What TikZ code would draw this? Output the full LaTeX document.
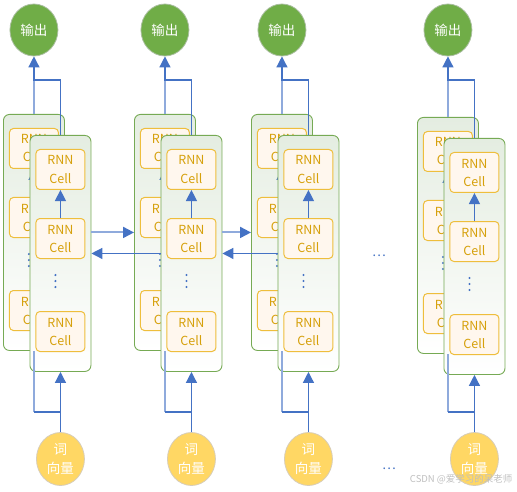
\documentclass[tikz,border=0pt]{standalone}
\usepackage{fontspec}
\setmainfont{Noto Sans CJK SC}
\usetikzlibrary{positioning,arrows.meta,shapes.geometric}

\definecolor{panelline}{RGB}{118,170,84}
\definecolor{paneltop}{RGB}{228,237,225}
\definecolor{cellline}{RGB}{238,190,60}
\definecolor{cellfill}{RGB}{255,247,238}
\definecolor{celltext}{RGB}{214,160,10}
\definecolor{outgreen}{RGB}{112,173,71}
\definecolor{outrim}{RGB}{170,190,160}
\definecolor{infill}{RGB}{255,215,100}
\definecolor{inrim}{RGB}{215,205,185}
\definecolor{arrblue}{RGB}{68,114,196}
\definecolor{arrlight}{RGB}{143,170,220}

\begin{document}
\begin{tikzpicture}[x=1pt,y=-1pt,node distance=28pt,
    panel/.style={draw=panelline,line width=0.9pt,rounded corners=6pt,
      top color=paneltop,bottom color=white,minimum width=61pt,minimum height=236pt,
      inner sep=0pt,anchor=north west},
    cell/.style={draw=cellline,line width=1pt,rounded corners=4pt,fill=cellfill,
      minimum width=49pt,minimum height=40pt,inner sep=0pt,align=center,
      text=celltext,font=\fontsize{12.5}{18}\selectfont},
    outnode/.style={ellipse,fill=outgreen,draw=outrim,line width=0.8pt,
      minimum width=48pt,minimum height=52pt,inner sep=0pt,text=white,
      font=\fontsize{13.5}{15}\selectfont},
    innode/.style={ellipse,fill=infill,draw=inrim,line width=0.8pt,
      minimum width=48pt,minimum height=53pt,inner sep=0pt,text=white,align=center,
      font=\fontsize{13.5}{19}\selectfont},
    tip/.style={-{Triangle[width=11pt,length=11pt,color=arrblue]}},
    arr/.style={draw=arrblue,line width=1.3pt},
    arrlt/.style={draw=arrlight,line width=2pt},
    dot/.style={fill=arrblue}]
  \useasboundingbox (0,0) rectangle (517,492);
  \coordinate (outrow) at (0,30);
  \coordinate (jrow) at (0,80);
  \coordinate (krow) at (0,412);
  \coordinate (inrow) at (0,459);

  \foreach \c/\bx/\dy in {1/3/0,2/134/0,3/251/0,4/417/3}{
    % back layer
    \node[panel] (back\c) at (\bx,114+\dy) {};
    \node[cell,below=14pt of back\c.north] (bA\c) {RNN\\Cell};
    \node[cell,below=of bA\c] (bB\c) {RNN\\Cell};
    \node[cell,below=52pt of bB\c] (bC\c) {RNN\\Cell};
    \draw[arr,tip] (bB\c) -- (bA\c);
    \foreach \k in {0,1,2}
      \fill[dot] ([xshift=-5pt,yshift=-(140+6*\k)*1pt]back\c.north) circle (1.2pt);

    \node[outnode] (out\c) at (back\c.north |- outrow) {输出};
    \coordinate (j\c) at (back\c.north |- jrow);
    \draw[arrlt] (back\c.north) -- (j\c);

    % front layer
    \node[panel] (front\c) at (\bx+26.5,135+\dy) {};
    \node[innode] (in\c) at (front\c.south |- inrow) {词\\向量};
    \coordinate (k\c) at (in\c.north |- krow);
    \draw[arrlt] (k\c -| back\c.south) -- (back\c.south);

    \node[cell,below=14pt of front\c.north] (fA\c) {RNN\\Cell};
    \node[cell,below=of fA\c] (fB\c) {RNN\\Cell};
    \node[cell,below=52pt of fB\c] (fC\c) {RNN\\Cell};
    \draw[arr,tip] (fB\c) -- (fA\c);
    \foreach \k in {0,1,2}
      \fill[dot] ([xshift=-5pt,yshift=-(140+6*\k)*1pt]front\c.north) circle (1.2pt);

    \draw[arr,tip] (front\c.north) |- (j\c) -- (out\c);
    \draw[arr,tip] (in\c) -- (front\c.south);
    \draw[arr] (k\c) -- (k\c -| back\c.south);
  }

  % links between columns
  \draw[arrlt,tip] (front1.east |- back2.west) -- (back2.west);
  \draw[arrlt,tip] (front2.east |- back3.west) -- (back3.west);
  \draw[arr,tip] (front2.west) -- (front1.east);
  \draw[arr,tip] (front3.west) -- (front2.east);

  \node[text=arrblue,font=\fontsize{13}{13}\selectfont] (gapA) at (379,256) {…};
  \node[text=arrblue,font=\fontsize{13}{13}\selectfont] (gapB) at (389,469) {…};
  \node[anchor=east,text=gray!50,font=\fontsize{9.5}{10}\selectfont] (mark) at (516,479) {CSDN @爱学习的呆老师};
\end{tikzpicture}
\end{document}
